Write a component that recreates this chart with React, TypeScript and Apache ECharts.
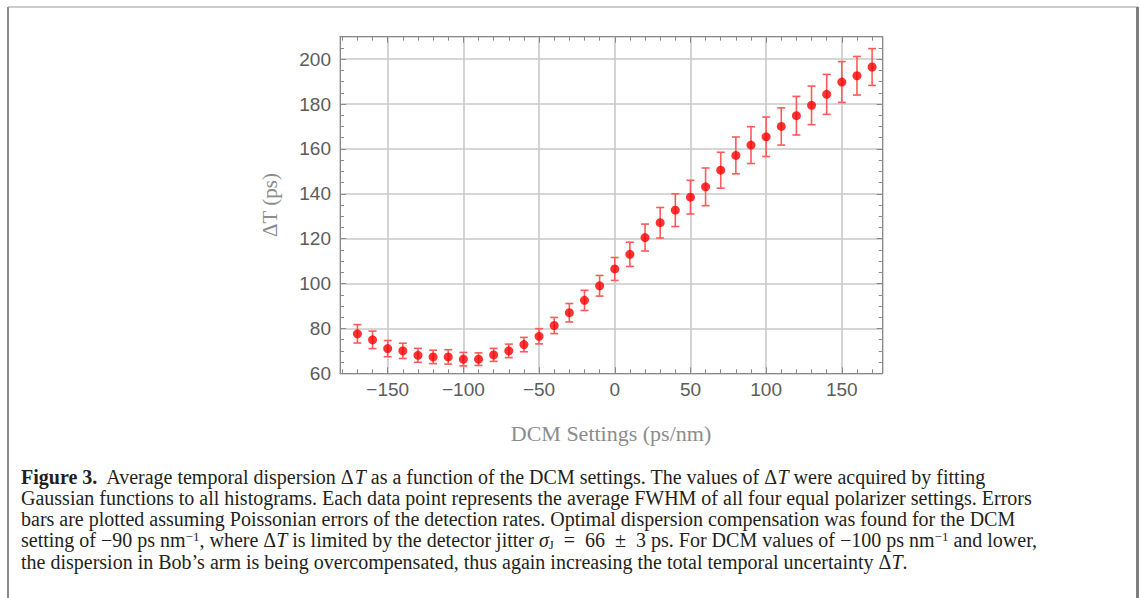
import React, { useEffect, useRef } from "react";
import * as echarts from "echarts";

// DCM settings (ps/nm)
const dcmSettings = [
  -170, -160, -150, -140, -130, -120, -110, -100, -90, -80, -70, -60, -50, -40, -30, -20, -10,
  0, 10, 20, 30, 40, 50, 60, 70, 80, 90, 100, 110, 120, 130, 140, 150, 160, 170,
];
// Average temporal dispersion ΔT (ps)
const deltaT = [
  77.6, 74.9, 71.0, 70.0, 68.0, 67.3, 67.3, 66.3, 66.3, 68.2, 70.0, 72.8, 76.5, 81.3, 87.0, 92.5,
  99.0, 106.5, 113.0, 120.5, 127.1, 132.7, 138.5, 143.1, 150.5, 157.1, 161.7, 165.4, 170.0, 174.8,
  179.4, 184.3, 189.8, 192.6, 196.5,
];
// Error (± ps)
const deltaTErr = [
  4.1, 3.9, 3.6, 3.4, 3.1, 3.0, 3.2, 3.0, 2.8, 2.9, 3.0, 3.2, 3.4, 3.6, 4.1, 4.5, 4.6, 5.1, 5.4,
  6.0, 6.8, 7.3, 7.5, 8.4, 8.0, 8.2, 8.2, 8.8, 8.3, 8.6, 8.6, 8.9, 9.1, 8.6, 8.2,
];

const xTitle = "DCM Settings (ps/nm)";
const yTitle = "ΔT (ps)";

const captionLines = [
  "{b|Figure 3.}  Average temporal dispersion Δ{i|T} as a function of the DCM settings. The values of Δ{i|T} were acquired by fitting",
  "Gaussian functions to all histograms. Each data point represents the average FWHM of all four equal polarizer settings. Errors",
  "bars are plotted assuming Poissonian errors of the detection rates. Optimal dispersion compensation was found for the DCM",
  "setting of −90 ps nm{sup|−1}, where Δ{i|T} is limited by the detector jitter {i|σ}{sub|J}\u2002=\u200266\u2002±\u20023 ps. For DCM values of −100 ps nm{sup|−1} and lower,",
  "the dispersion in Bob’s arm is being overcompensated, thus again increasing the total temporal uncertainty Δ{i|T}.",
];

const X_MIN = -181.5;
const X_MAX = 177;
const Y_MIN = 60;
const Y_MAX = 210;

export default function App() {
  const ref = useRef<HTMLDivElement>(null);

  useEffect(() => {
    if (!ref.current) return;
    const chart = echarts.init(ref.current, null, { renderer: "svg" });

    const gridRect = { left: 340, top: 36.7, width: 542.7, height: 336.6 };
    const axisColor = "#8a8a8a";
    const labelColor = "#5c5c5c";
    const sans = "Liberation Sans";
    const serif = "Liberation Serif";
    const capColor = "#231f20";
    const capSize = 20;

    const fmtX = (v: number) => {
      if (Math.abs(v % 50) > 1e-6) return "";
      return v < 0 ? "−" + Math.abs(v) : String(v);
    };
    const fmtY = (v: number) => (Math.abs(v % 20) > 1e-6 ? "" : String(v));

    const baseX = {
      type: "value" as const,
      min: X_MIN,
      max: X_MAX,
      axisLine: { show: true, onZero: false, lineStyle: { color: axisColor, width: 1 } },
    };
    const baseY = {
      type: "value" as const,
      min: Y_MIN,
      max: Y_MAX,
      axisLine: { show: true, onZero: false, lineStyle: { color: axisColor, width: 1 } },
    };

    const errData = dcmSettings.map((x, i) => [x, deltaT[i], deltaTErr[i]]);
    const ptData = dcmSettings.map((x, i) => [x, deltaT[i]]);

    const lineGap = 21.3;
    const captionTop = 466;

    const graphics: any[] = [
      { type: "rect", shape: { x: 7, y: 7, width: 2, height: 591 }, style: { fill: "#8a8a8a" }, silent: true },
      { type: "rect", shape: { x: 8, y: 6.5, width: 1130, height: 1 }, style: { fill: "#9a9a9a" }, silent: true },
      { type: "rect", shape: { x: 1136, y: 7, width: 3, height: 591 }, style: { fill: "#7e7e7e" }, silent: true },
      {
        type: "text",
        x: 270,
        y: 205,
        rotation: Math.PI / 2,
        style: {
          text: yTitle,
          fontFamily: serif,
          fontSize: 21,
          fill: "#8c8c8c",
          align: "center",
          verticalAlign: "middle",
        },
        silent: true,
      },
      {
        type: "text",
        x: 611,
        y: 433,
        style: {
          text: xTitle,
          fontFamily: serif,
          fontSize: 22,
          fill: "#8c8c8c",
          align: "center",
          verticalAlign: "middle",
        },
        silent: true,
      },
    ];

    captionLines.forEach((line, i) => {
      graphics.push({
        type: "text",
        x: 21,
        y: captionTop + i * lineGap,
        style: {
          text: line,
          fontFamily: serif,
          fontSize: capSize,
          lineHeight: 21,
          fill: capColor,
          align: "left",
          verticalAlign: "top",
          rich: {
            b: { fontWeight: "bold", fontFamily: serif, fontSize: capSize, lineHeight: 21, fill: capColor },
            i: { fontStyle: "italic", fontFamily: serif, fontSize: capSize, lineHeight: 21, fill: capColor },
            sup: { fontFamily: serif, fontSize: 13, lineHeight: 21, verticalAlign: "top", fill: capColor },
            sub: { fontFamily: serif, fontSize: 13, lineHeight: 21, verticalAlign: "bottom", fill: capColor },
          },
        },
        silent: true,
      });
    });

    chart.setOption({
      animation: false,
      backgroundColor: "#ffffff",
      grid: [
        { ...gridRect, containLabel: false },
        { ...gridRect, containLabel: false },
      ],
      xAxis: [
        {
          ...baseX,
          gridIndex: 0,
          position: "bottom",
          splitNumber: 7,
          axisTick: { show: true, inside: true, length: 6, lineStyle: { color: axisColor } },
          axisLabel: {
            show: true,
            formatter: fmtX,
            margin: 7,
            color: labelColor,
            fontFamily: sans,
            fontSize: 19,
            showMinLabel: false,
            showMaxLabel: false,
          },
          splitLine: { show: true, lineStyle: { color: "#c9c9c9", width: 1.6 } },
        },
        {
          ...baseX,
          gridIndex: 0,
          position: "top",
          splitNumber: 7,
          axisTick: { show: true, inside: true, length: 6, lineStyle: { color: axisColor } },
          axisLabel: { show: false },
          splitLine: { show: false },
        },
        {
          ...baseX,
          gridIndex: 1,
          position: "bottom",
          splitNumber: 36,
          axisTick: { show: true, inside: true, length: 4, lineStyle: { color: axisColor } },
          axisLabel: { show: false },
          splitLine: { show: false },
        },
        {
          ...baseX,
          gridIndex: 1,
          position: "top",
          splitNumber: 36,
          axisTick: { show: true, inside: true, length: 4, lineStyle: { color: axisColor } },
          axisLabel: { show: false },
          splitLine: { show: false },
        },
      ],
      yAxis: [
        {
          ...baseY,
          gridIndex: 0,
          position: "left",
          interval: 20,
          axisTick: { show: true, inside: true, length: 6, lineStyle: { color: axisColor } },
          axisLabel: {
            show: true,
            formatter: fmtY,
            margin: 9,
            color: labelColor,
            fontFamily: sans,
            fontSize: 19,
            showMaxLabel: false,
          },
          splitLine: { show: true, lineStyle: { color: "#c9c9c9", width: 1.6 } },
        },
        {
          ...baseY,
          gridIndex: 0,
          position: "right",
          interval: 20,
          axisTick: { show: true, inside: true, length: 6, lineStyle: { color: axisColor } },
          axisLabel: { show: false },
          splitLine: { show: false },
        },
        {
          ...baseY,
          gridIndex: 1,
          position: "left",
          interval: 5,
          axisTick: { show: true, inside: true, length: 4, lineStyle: { color: axisColor } },
          axisLabel: { show: false },
          splitLine: { show: false },
        },
        {
          ...baseY,
          gridIndex: 1,
          position: "right",
          interval: 5,
          axisTick: { show: true, inside: true, length: 4, lineStyle: { color: axisColor } },
          axisLabel: { show: false },
          splitLine: { show: false },
        },
      ],
      series: [
        {
          type: "custom",
          name: "error",
          xAxisIndex: 0,
          yAxisIndex: 0,
          data: errData,
          encode: { x: 0, y: 1 },
          z: 3,
          silent: true,
          renderItem: (params: any, api: any) => {
            const x = api.value(0);
            const y = api.value(1);
            const e = api.value(2);
            const hi = api.coord([x, y + e]);
            const lo = api.coord([x, y - e]);
            const hw = 4;
            const style = { stroke: "#ff5a5a", lineWidth: 1.6 };
            return {
              type: "group",
              children: [
                { type: "line", shape: { x1: hi[0], y1: hi[1], x2: lo[0], y2: lo[1] }, style },
                { type: "line", shape: { x1: hi[0] - hw, y1: hi[1], x2: hi[0] + hw, y2: hi[1] }, style },
                { type: "line", shape: { x1: lo[0] - hw, y1: lo[1], x2: lo[0] + hw, y2: lo[1] }, style },
              ],
            };
          },
        },
        {
          type: "scatter",
          name: "ΔT",
          xAxisIndex: 0,
          yAxisIndex: 0,
          data: ptData,
          symbol: "circle",
          symbolSize: 9,
          itemStyle: { color: "#ff0000" },
          z: 4,
        },
      ],
      graphic: graphics,
    });

    return () => chart.dispose();
  }, []);

  return (
    <div
      ref={ref}
      style={{ position: "fixed", left: 0, top: 0, width: 1140, height: 598, background: "#fff" }}
    />
  );
}
